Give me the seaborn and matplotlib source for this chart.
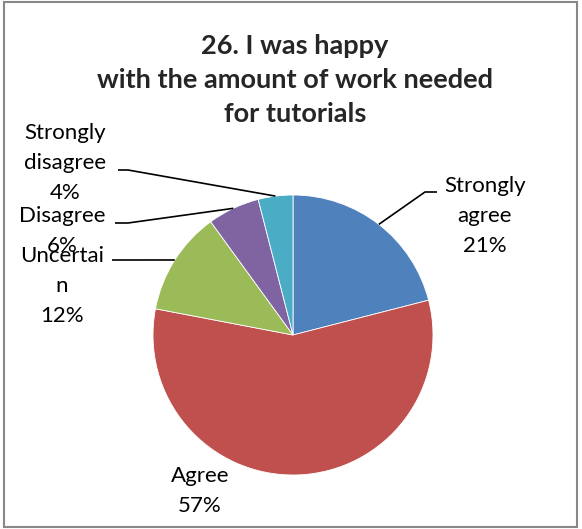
import numpy as np
import matplotlib
matplotlib.use("Agg")
import matplotlib.pyplot as plt
import seaborn as sns
sns.set_style("white")
plt.rcParams['font.family'] = ['Lato', 'DejaVu Sans']

categories = ["Strongly\nagree", "Agree", "Uncertai\nn", "Disagree", "Strongly\ndisagree"]
shares = [21, 57, 12, 6, 4]
pct_labels = ["21%", "57%", "12%", "6%", "4%"]
colors = ["#4F81BD", "#C0504D", "#9BBB59", "#8064A2", "#4BACC6"]

W, H = 582, 529
fig = plt.figure(figsize=(W / 100, H / 100), dpi=100)
ax = fig.add_axes([0, 0, 1, 1])

cx, cy, r = 293, H - 335, 140
wedges, _ = ax.pie(shares, colors=colors, startangle=90, counterclock=False,
                   center=(cx, cy), radius=r, frame=True,
                   wedgeprops=dict(edgecolor="white", linewidth=0.6))
ax.set_xlim(0, W)
ax.set_ylim(0, H)
ax.set_aspect("equal")
ax.axis("off")

# label text anchors (image px) and elbow points for leader lines
text_pos = [(485, 216), (200, 491), (62, 286), (62, 231), (65, 163)]
elbows = [[(425, 192), (437, 192)], None, [(112, 260)],
          [(128, 223), (115, 223)], [(128, 170), (118, 170)]]

for w, lab, pct, (tx, ty), elb in zip(wedges, categories, pct_labels, text_pos, elbows):
    mid = np.deg2rad((w.theta1 + w.theta2) / 2)
    ex, ey = cx + r * np.cos(mid), cy + r * np.sin(mid)
    if elb is not None:
        xs = [ex] + [p[0] for p in elb]
        ys = [ey] + [H - p[1] for p in elb]
        ax.plot(xs, ys, color="black", lw=1.2, solid_capstyle="butt")
    ax.text(tx, H - ty, lab + "\n" + pct, ha="center", va="center",
            fontsize=16, linespacing=1.6, color="black")

fig.text(295 / W, 1 - 80 / H,
         "26. I was happy\nwith the amount of work needed\nfor tutorials",
         ha="center", va="center", fontsize=19.5, fontweight="bold",
         linespacing=1.5)

fig.patches.append(plt.Rectangle((4 / W, 2 / H), 573 / W, 525 / H,
                                 transform=fig.transFigure, fill=False,
                                 edgecolor="#888888", lw=1.5))

fig.savefig("out.png", dpi=100)
